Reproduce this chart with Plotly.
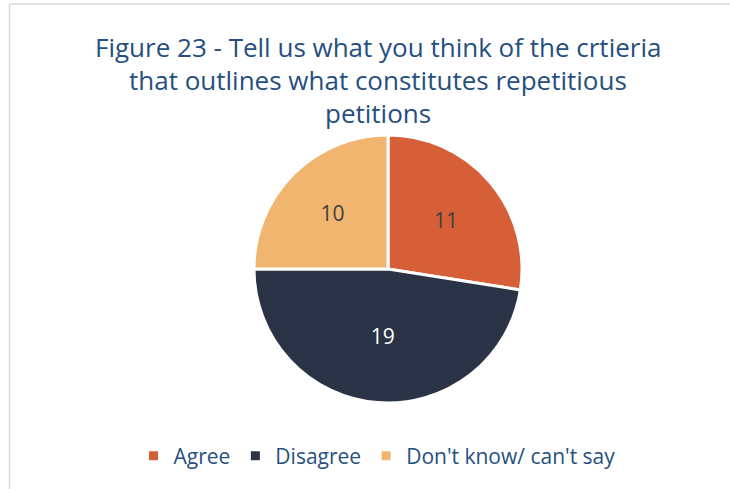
import plotly.graph_objects as go

# Survey responses
categories = ["Agree", "Disagree", "Don't know/ can't say"]
counts = [11, 19, 10]
slice_colors = ["#D65F37", "#2B3447", "#F0B56E"]
label_colors = ["#404040", "#FFFFFF", "#404040"]

title_lines = [
    "Figure 23 - Tell us what you think of the crtieria",
    "that outlines what constitutes repetitious",
    "petitions",
]

W, H = 730, 489
FONT = "Open Sans"
BLUE = "#264F80"

fig = go.Figure(
    go.Pie(
        labels=categories,
        values=counts,
        sort=False,
        direction="clockwise",
        rotation=0,
        marker=dict(colors=slice_colors, line=dict(color="white", width=3)),
        textinfo="value",
        textposition="inside",
        insidetextorientation="horizontal",
        insidetextfont=dict(family=FONT, size=21, color=label_colors),
        hoverinfo="label+value",
        domain=dict(x=[254 / W, 522 / W], y=[1 - 403 / H, 1 - 135 / H]),
    )
)

annotations = []
for line, yc in zip(title_lines, [47, 80, 113]):
    annotations.append(
        dict(
            text=line,
            x=378 / W,
            y=1 - yc / H,
            xref="paper",
            yref="paper",
            xanchor="center",
            yanchor="middle",
            showarrow=False,
            font=dict(family=FONT, size=26, color=BLUE),
        )
    )

fig.update_layout(
    width=W,
    height=H,
    margin=dict(l=0, r=0, t=0, b=0),
    paper_bgcolor="white",
    plot_bgcolor="white",
    annotations=annotations,
    showlegend=True,
    legend=dict(
        orientation="h",
        x=377 / W,
        xanchor="center",
        y=1 - 456 / H,
        yanchor="middle",
        font=dict(family=FONT, size=21, color=BLUE),
        itemwidth=30,
        tracegroupgap=0,
    ),
    shapes=[
        dict(type="line", xref="paper", yref="paper",
             x0=9.5 / W, x1=9.5 / W, y0=0, y1=1 - 4 / H,
             line=dict(color="#D9D9D9", width=1.5)),
        dict(type="line", xref="paper", yref="paper",
             x0=9.5 / W, x1=1, y0=1 - 4 / H, y1=1 - 4 / H,
             line=dict(color="#D9D9D9", width=1.5)),
    ],
)

fig.write_html("out.html")
